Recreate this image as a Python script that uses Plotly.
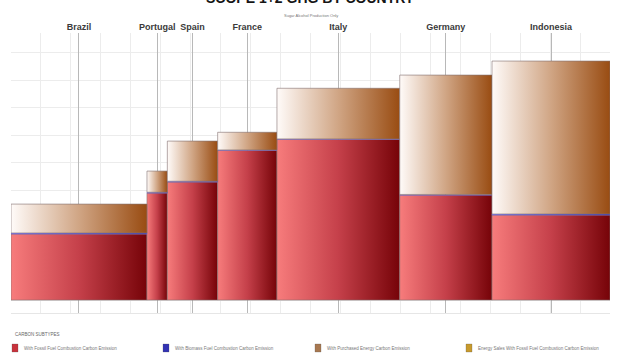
import numpy as np
import plotly.graph_objects as go

# ---------------- data ----------------
countries = ["Brazil", "Portugal", "Spain", "France", "Italy", "Germany", "Indonesia"]
production_share = [22.7, 3.4, 8.4, 9.9, 20.5, 15.4, 19.7]   # bar widths (% of production)
fossil = [24.0, 38.9, 42.9, 54.5, 58.5, 38.2, 30.9]
biomass = [0.4, 0.3, 0.3, 0.1, 0.1, 0.2, 0.4]
purchased = [10.5, 7.7, 14.6, 6.4, 18.4, 43.4, 55.6]
energy_sales = [0, 0, 0, 0, 0, 0, 0]

series_names = [
    "With Fossil Fuel Combustion Carbon Emission",
    "With Biomass Fuel Combustion Carbon Emission",
    "With Purchased Energy Carbon Emission",
    "Energy Sales With Fossil Fuel Combustion Carbon Emission",
]
series_values = [fossil, biomass, purchased, energy_sales]
gradients = [
    [[0, "#f77c7c"], [0.5, "#c5404a"], [1, "#760308"]],
    [[0, "#8080ff"], [1, "#2020a0"]],
    [[0, "#fffbf9"], [0.5, "#d0a584"], [1, "#994c12"]],
    [[0, "#f5e0a0"], [1, "#b07818"]],
]
swatch_colors = ["#c8323c", "#3232b4", "#a87850", "#c89a2c"]

# ---------------- geometry from data ----------------
w = np.array(production_share, dtype=float)
left = np.concatenate([[0], np.cumsum(w)[:-1]])
right = left + w
centers = (left + right) / 2

fig = go.Figure()

base = np.zeros(len(countries))
for si, vals in enumerate(series_values):
    vals = np.array(vals, dtype=float)
    for i in range(len(countries)):
        if vals[i] <= 0:
            continue
        x0, x1 = left[i], right[i]
        b, t = base[i], base[i] + vals[i]
        fig.add_trace(go.Scatter(
            x=[x0, x1, x1, x0, x0], y=[b, b, t, t, b],
            mode="lines", fill="toself",
            line=dict(color="rgba(130,110,110,0.75)" if si != 1 else "rgba(110,110,220,0.7)", width=0.8),
            fillgradient=dict(type="horizontal", colorscale=gradients[si]),
            showlegend=False, hoverinfo="skip", name=series_names[si],
        ))
    base = base + vals

# invisible trace to activate the top axis
fig.add_trace(go.Scatter(x=list(centers), y=[0] * len(countries), xaxis="x2",
                         mode="markers", marker=dict(opacity=0), showlegend=False, hoverinfo="skip"))

# ---------------- layout ----------------
W, H = 621, 353
ml, mr, mt, mb = 11, 11, 33, 40
fig.update_layout(
    width=W, height=H,
    margin=dict(l=ml, r=mr, t=mt, b=mb),
    paper_bgcolor="white", plot_bgcolor="white",
    showlegend=False,
    xaxis=dict(range=[0, 100], dtick=5, tick0=0, showgrid=True, gridcolor="#ececec", gridwidth=1,
               showticklabels=False, zeroline=False, showline=True, linecolor="#e6e6e6", ticks=""),
    xaxis2=dict(range=[0, 100], overlaying="x", side="top", tickmode="array",
                tickvals=list(centers), ticktext=countries, showgrid=True, gridcolor="#b8b8b8",
                gridwidth=1, zeroline=False, ticks="",
                tickfont=dict(family="Liberation Sans, Arial", size=9, color="#3a3a3a", weight="bold")),
    yaxis=dict(range=[-4.7, 97.1], dtick=10, tick0=0, showgrid=True, gridcolor="#ececec",
               showticklabels=False, zeroline=False, ticks=""),
)

# title (partially clipped at the top, as in the reference) and subtitle
ph = H - mt - mb
pw = W - ml - mr

def py(pix):
    return (H - mb - pix) / ph

def px(pix):
    return (pix - ml) / pw

fig.add_annotation(text="<b>SCOPE 1+2 GHG BY COUNTRY</b>", xref="paper", yref="paper",
                   x=0.5, y=py(8), xanchor="center", yanchor="bottom", showarrow=False,
                   font=dict(family="Liberation Sans, Arial", size=14, color="#151515"))
fig.add_annotation(text="Sugar Alcohol Production Only", xref="paper", yref="paper",
                   x=px(311), y=py(15), xanchor="center", yanchor="middle", showarrow=False,
                   font=dict(family="Liberation Sans, Arial", size=4, color="#777"))

# custom legend
fig.add_annotation(text="CARBON SUBTYPES", xref="paper", yref="paper",
                   x=px(13), y=py(334), xanchor="left", yanchor="middle", showarrow=False,
                   font=dict(family="Liberation Sans, Arial", size=4.5, color="#666"))
leg_x = [12, 163, 315, 466]
for k, name in enumerate(series_names):
    fig.add_shape(type="rect", xref="paper", yref="paper",
                  x0=px(leg_x[k]), x1=px(leg_x[k] + 6), y0=py(352), y1=py(344),
                  fillcolor=swatch_colors[k], line=dict(color="rgba(80,80,80,0.5)", width=0.5))
    fig.add_annotation(text=name, xref="paper", yref="paper",
                       x=px(leg_x[k] + 10), y=py(348), xanchor="left", yanchor="middle",
                       showarrow=False, font=dict(family="Liberation Sans, Arial", size=4.5, color="#777"))

fig.write_html("out.html")
